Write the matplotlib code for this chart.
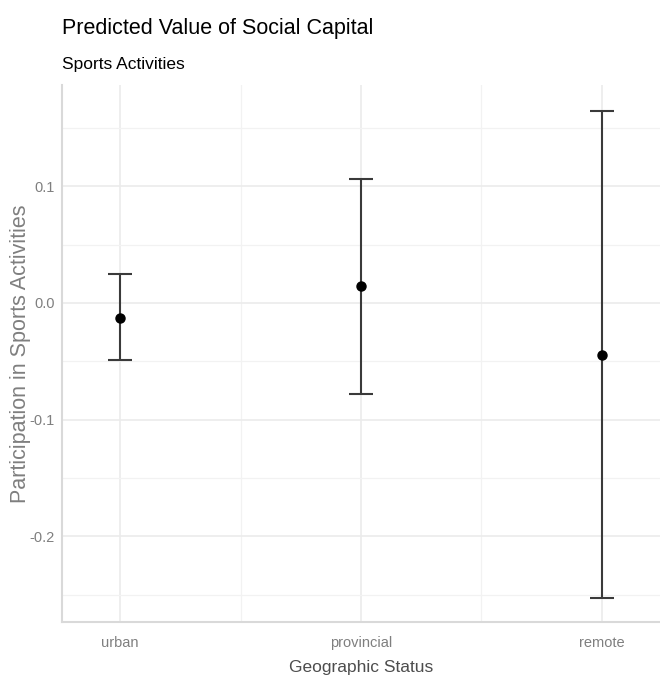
import matplotlib
matplotlib.use("Agg")
import matplotlib.pyplot as plt
import numpy as np

# predicted values with confidence intervals per geographic status
groups = ["urban", "provincial", "remote"]
predicted = [-0.0125, 0.0143, -0.0442]
ci_low = [-0.0485, -0.0776, -0.2528]
ci_high = [0.0246, 0.1060, 0.1643]

sans = ["Liberation Sans", "DejaVu Sans"]

fig = plt.figure(figsize=(6.6, 6.81), dpi=100)
ax = fig.add_axes([0.094, 0.0866, 0.906, 0.7884])

x = np.arange(1, len(groups) + 1)
pred = np.array(predicted)
err = [pred - np.array(ci_low), np.array(ci_high) - pred]
ax.errorbar(x, pred, yerr=err, fmt="none", ecolor="#3a3a3a",
            elinewidth=1.5, capsize=8.6, capthick=1.5, zorder=3)
ax.plot(x, pred, "o", color="black", markersize=6.5, zorder=4)

ax.set_xlim(0.759, 3.241)
ax.set_ylim(-0.2734, 0.1867)
ax.set_xticks(x)
ax.set_xticklabels(groups)
ax.set_yticks([-0.2, -0.1, 0.0, 0.1])
ax.set_yticklabels(["-0.2", "-0.1", "0.0", "0.1"])
ax.set_yticks([-0.25, -0.15, -0.05, 0.05, 0.15], minor=True)
ax.set_xticks([1.5, 2.5], minor=True)

ax.grid(which="major", color="#ebebeb", linewidth=1.2)
ax.grid(which="minor", color="#f2f2f2", linewidth=0.9)
ax.set_axisbelow(True)
ax.tick_params(which="both", length=0)
ax.tick_params(axis="both", labelcolor="#7f7f7f", labelsize=10.5)
ax.tick_params(axis="x", pad=10)
ax.tick_params(axis="y", pad=5)
for lab in ax.get_xticklabels() + ax.get_yticklabels():
    lab.set_family(sans)

for s in ["top", "right"]:
    ax.spines[s].set_visible(False)
for s in ["left", "bottom"]:
    ax.spines[s].set_color("#d9d9d9")
    ax.spines[s].set_linewidth(1.5)

ax.set_xlabel("Geographic Status", family=sans, fontsize=12.5,
              color="#4d4d4d", va="center")
ax.xaxis.set_label_coords(0.5, -0.084)
ax.set_ylabel("Participation in Sports Activities", family=sans,
              fontsize=15.5, color="#7f7f7f", va="center")
ax.yaxis.set_label_coords(-0.070, 0.5)

fig.text(0.094, 0.958, "Predicted Value of Social Capital", family=sans,
         fontsize=15.5, color="black", va="center", ha="left")
fig.text(0.094, 0.905, "Sports Activities", family=sans,
         fontsize=12.5, color="black", va="center", ha="left")

fig.savefig("out.png", dpi=100)
